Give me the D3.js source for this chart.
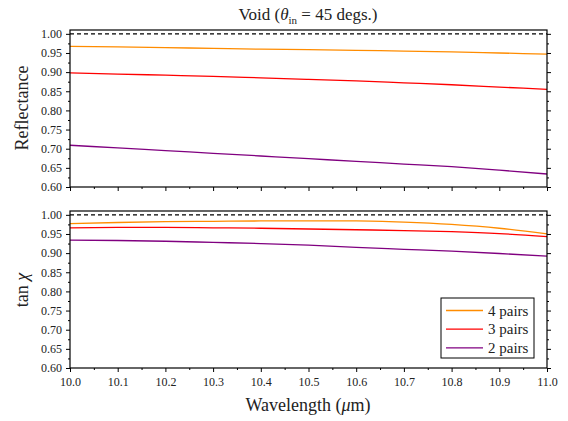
<!DOCTYPE html>
<html>
<head>
<meta charset="utf-8">
<script src="https://cdn.jsdelivr.net/npm/d3@7"></script>
<style>
  svg text, svg tspan { font-family: 'Liberation Serif', 'Times New Roman', serif !important; }
</style>
</head>
<body style="margin:0">
<svg id="chart" width="568" height="421"></svg>
<script>
// donnees
const wavelength = [10.0, 10.1, 10.2, 10.3, 10.4, 10.5, 10.6, 10.7, 10.8, 10.9, 11.0];
const reflect4 = [0.967, 0.966, 0.964, 0.962, 0.960, 0.959, 0.957, 0.955, 0.953, 0.950, 0.947];
const reflect3 = [0.898, 0.895, 0.892, 0.889, 0.885, 0.881, 0.877, 0.872, 0.867, 0.861, 0.855];
const reflect2 = [0.709, 0.702, 0.695, 0.688, 0.681, 0.674, 0.667, 0.660, 0.653, 0.644, 0.634];
const tan4 = [0.977, 0.980, 0.982, 0.983, 0.984, 0.984, 0.984, 0.981, 0.975, 0.965, 0.950];
const tan3 = [0.966, 0.967, 0.967, 0.966, 0.965, 0.963, 0.961, 0.959, 0.956, 0.951, 0.943];
const tan2 = [0.934, 0.933, 0.931, 0.928, 0.925, 0.921, 0.915, 0.910, 0.905, 0.899, 0.892];
const seriesNames = ["4 pairs", "3 pairs", "2 pairs"];
const seriesColors = ["#ff8c00", "#ff0000", "#800080"];
const xTicks = [10.0, 10.1, 10.2, 10.3, 10.4, 10.5, 10.6, 10.7, 10.8, 10.9, 11.0];
const yTicks = [0.60, 0.65, 0.70, 0.75, 0.80, 0.85, 0.90, 0.95, 1.00];

const svg = d3.select("#chart");
const left = 70, right = 547;
const fontStyle = size => `font-family:'Liberation Serif'; font-size:${size}px`;

const x = d3.scaleLinear().domain([10.0, 11.0]).range([left, right]);

function drawPanel(top, bottom, series, withXLabels) {
  const y = d3.scaleLinear().domain([0.60, 1.01]).range([bottom, top]);
  const g = svg.append("g");

  // graduations majeures et mineures
  const xMinor = d3.range(10.05, 11.0, 0.1);
  const yMinor = d3.range(0.625, 1.0, 0.05);

  const axB = d3.axisBottom(x).tickValues(xTicks).tickSize(4).tickPadding(5)
      .tickFormat(withXLabels ? d3.format(".1f") : "");
  g.append("g").attr("transform", `translate(0,${bottom})`).call(axB);
  g.append("g").attr("transform", `translate(0,${bottom})`)
    .call(d3.axisBottom(x).tickValues(xMinor).tickSize(2).tickFormat(""));

  g.append("g").attr("transform", `translate(${left},0)`)
    .call(d3.axisLeft(y).tickValues(yTicks).tickSize(4).tickPadding(4).tickFormat(d3.format(".2f")));
  g.append("g").attr("transform", `translate(${left},0)`)
    .call(d3.axisLeft(y).tickValues(yMinor).tickSize(2).tickFormat(""));
  g.append("g").attr("transform", `translate(${right},0)`)
    .call(d3.axisRight(y).tickValues(yTicks).tickSize(4).tickFormat(""));
  g.append("g").attr("transform", `translate(${right},0)`)
    .call(d3.axisRight(y).tickValues(yMinor).tickSize(2).tickFormat(""));

  g.selectAll(".domain").remove();
  g.selectAll("g").attr("font-family", null).attr("font-size", null);
  g.selectAll(".tick line").attr("stroke", "#000");
  g.selectAll(".tick text").attr("fill", "#222").attr("style", fontStyle(12));

  // ligne pointillee a 1.00
  g.append("line")
    .attr("x1", x(10.0)).attr("x2", x(11.0))
    .attr("y1", y(1.0)).attr("y2", y(1.0))
    .attr("stroke", "#000").attr("stroke-width", 1.2)
    .attr("stroke-dasharray", "4,3");

  const line = d3.line().x((d, i) => x(wavelength[i])).y(d => y(d)).curve(d3.curveMonotoneX);
  series.forEach((s, i) => {
    g.append("path").datum(s)
      .attr("fill", "none")
      .attr("stroke", seriesColors[i])
      .attr("stroke-width", 1.3)
      .attr("d", line);
  });

  // cadre
  g.append("rect")
    .attr("x", left).attr("y", top)
    .attr("width", right - left).attr("height", bottom - top)
    .attr("fill", "none").attr("stroke", "#000").attr("stroke-width", 1.2);
  return y;
}

drawPanel(30, 187, [reflect4, reflect3, reflect2], false);
drawPanel(211, 368, [tan4, tan3, tan2], true);

// titre
const title = svg.append("text")
  .attr("x", 308).attr("y", 20)
  .attr("text-anchor", "middle").attr("style", fontStyle(17)).attr("fill", "#222");
title.append("tspan").text("Void (");
title.append("tspan").attr("font-style", "italic").text("\u03b8");
title.append("tspan").attr("font-size", 11).attr("dy", 4).text("in");
title.append("tspan").attr("dy", -4).text(" = 45 degs.)");

// titres des axes
svg.append("text")
  .attr("transform", "translate(28,108) rotate(-90)")
  .attr("text-anchor", "middle").attr("style", fontStyle(18)).attr("fill", "#222")
  .text("Reflectance");

const tanLabel = svg.append("text")
  .attr("transform", "translate(28,290) rotate(-90)")
  .attr("text-anchor", "middle").attr("style", fontStyle(18)).attr("fill", "#222");
tanLabel.append("tspan").text("tan ");
tanLabel.append("tspan").attr("font-style", "italic").text("\u03c7");

const xLabel = svg.append("text")
  .attr("x", 308).attr("y", 411)
  .attr("text-anchor", "middle").attr("style", fontStyle(18)).attr("fill", "#222");
xLabel.append("tspan").text("Wavelength (");
xLabel.append("tspan").attr("font-style", "italic").text("\u03bc");
xLabel.append("tspan").text("m)");

// legende
const legend = svg.append("g").attr("transform", "translate(441,298)");
legend.append("rect")
  .attr("width", 93).attr("height", 60)
  .attr("fill", "#fff").attr("stroke", "#000").attr("stroke-width", 1);
seriesNames.forEach((name, i) => {
  const row = legend.append("g").attr("transform", `translate(0,${12.5 + i * 18.7})`);
  row.append("line")
    .attr("x1", 5).attr("x2", 42)
    .attr("stroke", seriesColors[i]).attr("stroke-width", 1.3);
  row.append("text")
    .attr("x", 47).attr("dy", "0.35em")
    .attr("style", fontStyle(15)).attr("fill", "#222")
    .text(name);
});
</script>
</body>
</html>
